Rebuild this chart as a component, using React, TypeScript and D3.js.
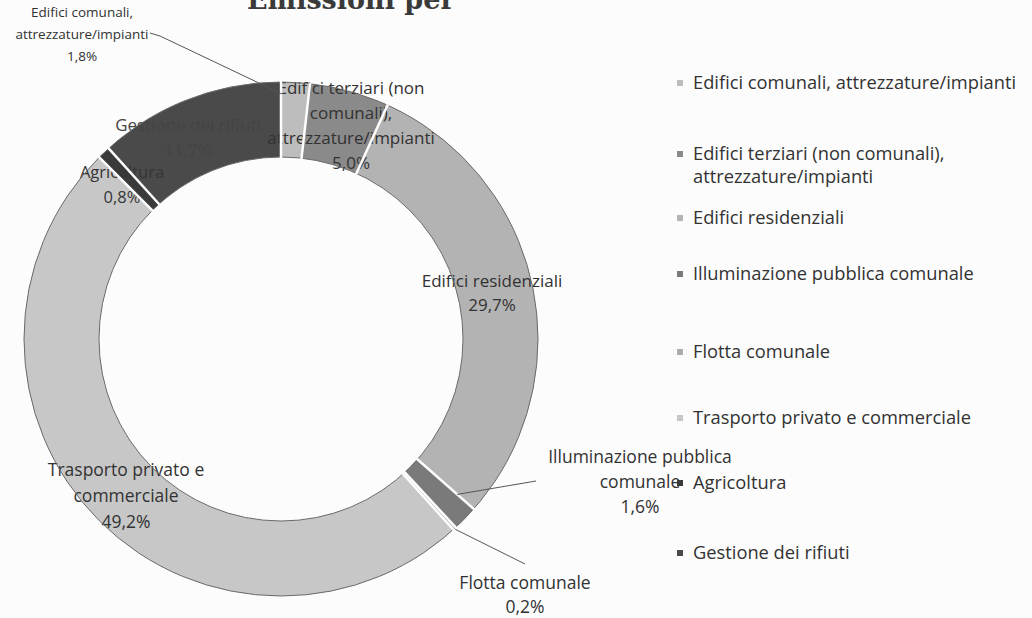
import React from "react";
import * as d3 from "d3";

// ---------- data ----------
const categories = [
  "Edifici comunali, attrezzature/impianti",
  "Edifici terziari (non comunali), attrezzature/impianti",
  "Edifici residenziali",
  "Illuminazione pubblica comunale",
  "Flotta comunale",
  "Trasporto privato e commerciale",
  "Agricoltura",
  "Gestione dei rifiuti",
];
const values = [1.8, 5.0, 29.7, 1.6, 0.2, 49.2, 0.8, 11.7];
const legendLines = [
  ["Edifici comunali, attrezzature/impianti"],
  ["Edifici terziari (non comunali),", "attrezzature/impianti"],
  ["Edifici residenziali"],
  ["Illuminazione pubblica comunale"],
  ["Flotta comunale"],
  ["Trasporto privato e commerciale"],
  ["Agricoltura"],
  ["Gestione dei rifiuti"],
];
const labelLines = [
  ["Edifici comunali,", "attrezzature/impianti"],
  ["Edifici terziari (non", "comunali),", "attrezzature/impianti"],
  ["Edifici residenziali"],
  ["Illuminazione pubblica", "comunale"],
  ["Flotta comunale"],
  ["Trasporto privato e", "commerciale"],
  ["Agricoltura"],
  ["Gestione dei rifiuti"],
];
const sliceColors = ["#bdbdbd", "#8a8a8a", "#b3b3b3", "#7a7a7a", "#acacac", "#c7c7c7", "#3a3a3a", "#4a4a4a"];
const labelColors = ["#323232", "#323232", "#323232", "#323232", "#323232", "#323232", "#363636", "#444444"];

// ---------- layout ----------
const W = 1032, H = 618;
const cx = 281, cy = 339;
const rOuter = 257, rInner = 182;
const legendFont = 18.3;
const FONT = "'Open Sans', 'Noto Sans', sans-serif";
const textColor = "#323232";
// label block: [center x, first line center y, line height, font size]
const labelPos: [number, number, number, number][] = [
  [82, 12, 22, 13.5],
  [351, 88, 25, 17],
  [492, 281, 24, 17],
  [640, 457, 25, 17.5],
  [525, 583, 24, 17.5],
  [126, 470, 26, 17.5],
  [122, 172, 25, 16.5],
  [188, 125, 25, 17],
];
const legendX = 680, legendTextX = 693;
const legendY = [83, 154, 218, 274, 352, 418, 483, 553];
const legendLineH = 23;

const fmt = (v: number) => d3.format(".1f")(v).replace(".", ",") + "%";

export default function App() {
  const pie = d3.pie<number>().sort(null).value((d) => d).startAngle(0).endAngle(2 * Math.PI);
  const arcs = pie(values);
  const arc = d3.arc<d3.PieArcDatum<number>>().innerRadius(rInner).outerRadius(rOuter);
  const polar = (a: number, r: number): [number, number] => [cx + r * Math.sin(a), cy - r * Math.cos(a)];

  // leader lines
  const a0 = arcs[0];
  const comStart: [number, number] = [150, 33];
  const comMid: [number, number] = [160, 36];
  const comEnd = polar(a0.startAngle + 0.004, rOuter - 12);
  const a3 = arcs[3];
  const illStart = polar(a3.startAngle, rOuter - 22);
  const illEnd: [number, number] = [536, 481];
  const a4 = arcs[4];
  const floStart = polar((a4.startAngle + a4.endAngle) / 2, rOuter + 1);
  const floEnd: [number, number] = [525, 564];
  const line = d3.line();

  return (
    <svg width={W} height={H} style={{ position: "absolute", left: 0, top: 0, background: "#fcfcfc" }} fontFamily={FONT}>
      {/* title, cut off at the top edge of the scan */}
      <text x={247} y={9} fontFamily="'DejaVu Serif', serif" fontWeight="bold" fontSize={27} fill="#3a3a3a">
        Emissioni per
      </text>
      <g>
        {arcs.map((a, i) => (
          <path key={i} d={arc(a) || ""} transform={`translate(${cx},${cy})`} fill={sliceColors[i]} />
        ))}
      </g>
      {/* data labels */}
      {labelLines.map((lines, i) => {
        const [lx, ly, lh, fs] = labelPos[i];
        const all = [...lines, fmt(values[i])];
        return (
          <text key={i} fontSize={fs} fill={labelColors[i]} textAnchor="middle">
            {all.map((t, j) => (
              <tspan key={j} x={lx} y={ly + j * lh} dy="0.35em">
                {t}
              </tspan>
            ))}
          </text>
        );
      })}
      {/* outlines and separators */}
      <g>
        <circle cx={cx} cy={cy} r={rOuter} fill="none" stroke="#6a6a6a" strokeWidth={1} />
        <circle cx={cx} cy={cy} r={rInner} fill="none" stroke="#6a6a6a" strokeWidth={1} />
        {arcs.map((a, i) => {
          const p1 = polar(a.startAngle, rInner - 1);
          const p2 = polar(a.startAngle, rOuter + 1);
          return <line key={i} x1={p1[0]} y1={p1[1]} x2={p2[0]} y2={p2[1]} stroke="#fdfdfd" strokeWidth={2.5} />;
        })}
      </g>
      {/* leader lines */}
      <path d={line([comStart, comMid, comEnd]) || ""} fill="none" stroke="#555" strokeWidth={1} />
      <path d={line([illStart, illEnd]) || ""} fill="none" stroke="#555" strokeWidth={1} />
      <path d={line([floStart, floEnd]) || ""} fill="none" stroke="#555" strokeWidth={1} />
      {/* legend */}
      {categories.map((c, i) => (
        <g key={c}>
          <rect x={legendX - 3} y={legendY[i] - 3} width={6} height={6} fill={sliceColors[i]} />
          <text fontSize={legendFont} fill={textColor}>
            {legendLines[i].map((t, j) => (
              <tspan key={j} x={legendTextX} y={legendY[i] + j * legendLineH} dy="0.35em">
                {t}
              </tspan>
            ))}
          </text>
        </g>
      ))}
    </svg>
  );
}
